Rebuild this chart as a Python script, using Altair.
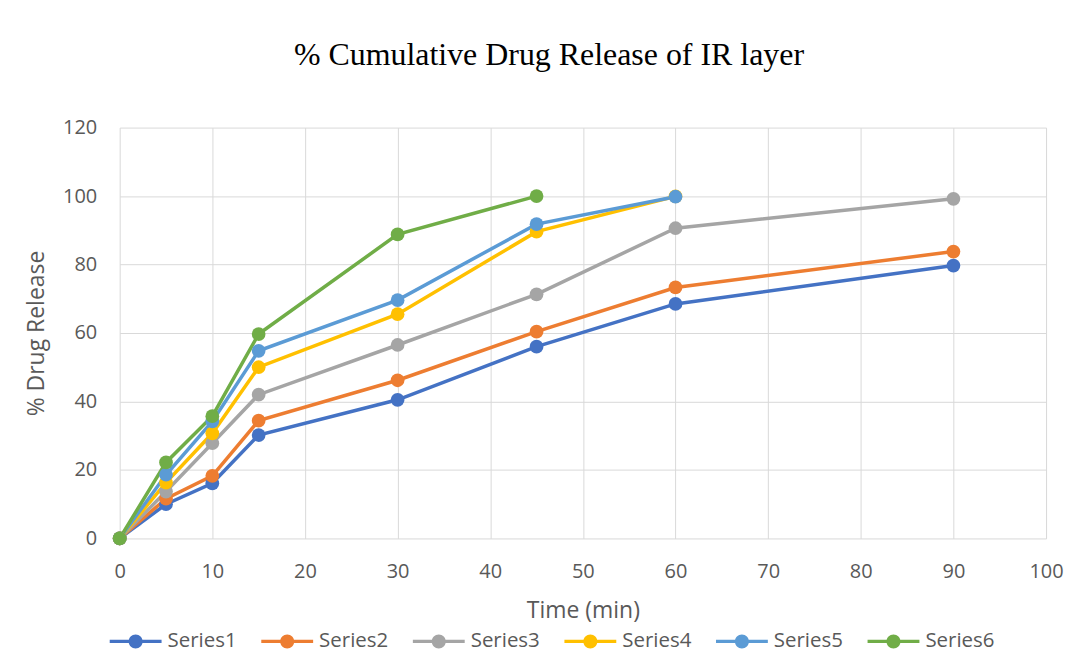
import altair as alt
import pandas as pd

times = [0, 5, 10, 15, 30, 45, 60, 90]
series_names = ["Series1", "Series2", "Series3", "Series4", "Series5", "Series6"]
series1 = [0, 10.0, 16.1, 30.2, 40.5, 56.0, 68.5, 79.7]
series2 = [0, 11.6, 18.3, 34.4, 46.2, 60.4, 73.3, 83.8]
series3 = [0, 13.7, 27.8, 42.0, 56.5, 71.3, 90.6, 99.2]
series4 = [0, 16.3, 30.7, 50.0, 65.5, 89.6, 99.9, None]
series5 = [0, 18.6, 34.2, 54.8, 69.6, 91.8, 99.8, None]
series6 = [0, 22.2, 35.7, 59.7, 88.8, 100.0, None, None]
colors = ["#4472C4", "#ED7D31", "#A5A5A5", "#FFC000", "#5B9BD5", "#70AD47"]

rows = []
for name, vals in zip(series_names, [series1, series2, series3, series4, series5, series6]):
    for t, v in zip(times, vals):
        if v is not None:
            rows.append({"Time": t, "Release": v, "Series": name})
df = pd.DataFrame(rows)

color_scale = alt.Scale(domain=series_names, range=colors)
legend_path = (
    "M-1,-0.065H-0.25V0.065H-1Z "
    "M0.25,-0.065H1V0.065H0.25Z "
    "M0.27,0A0.27,0.27,0,1,1,-0.27,0A0.27,0.27,0,1,1,0.27,0Z"
)


def make_legend():
    return alt.Legend(
        title=None,
        orient="none",
        direction="horizontal",
        legendX=-10,
        legendY=489,
        symbolType=legend_path,
        symbolSize=2704,
        symbolStrokeWidth=0,
        labelOffset=6,
        columnPadding=24,
        labelFont="Open Sans",
        labelFontSize=20.5,
        labelColor="#595959",
        padding=0,
    )


base = alt.Chart(df).encode(
    x=alt.X(
        "Time:Q",
        scale=alt.Scale(domain=[0, 100], nice=False),
        axis=alt.Axis(values=list(range(0, 101, 10)), title="Time (min)",
                      labelPadding=23, titlePadding=18, labelFlush=False),
    ),
    y=alt.Y(
        "Release:Q",
        scale=alt.Scale(domain=[0, 120], nice=False),
        axis=alt.Axis(values=list(range(0, 121, 20)), title="% Drug Release",
                      labelPadding=23, titlePadding=14.5),
    ),
)

lines = base.mark_line(strokeWidth=3.5).encode(
    color=alt.Color("Series:N", scale=color_scale, legend=make_legend())
)
points = base.mark_point(filled=True, size=190, opacity=1, strokeWidth=0).encode(
    color=alt.Color("Series:N", scale=color_scale, legend=make_legend())
)

chart = (
    alt.layer(lines, points)
    .properties(
        width=929,
        height=412,
        padding={"left": 17, "top": 30, "right": 2, "bottom": 10},
        title=alt.Title(
            "% Cumulative Drug Release of IR layer",
            font="Liberation Serif",
            fontSize=32,
            fontWeight="normal",
            color="black",
            offset=46,
            anchor="middle",
            frame="group",
            dx=-34,
        ),
    )
    .configure_view(strokeWidth=0)
    .configure_axis(
        gridColor="#D9D9D9",
        gridWidth=1,
        domain=False,
        ticks=False,
        tickSize=0,
        labelFont="Open Sans",
        labelFontSize=20,
        labelColor="#595959",
        titleFont="Open Sans",
        titleFontSize=23,
        titleFontWeight="normal",
        titleColor="#595959",
    )
)

chart.save("out.html", embed_options={"renderer": "svg", "actions": False})
